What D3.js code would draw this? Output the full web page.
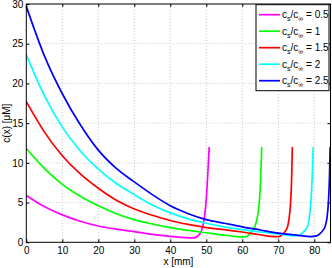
<!DOCTYPE html>
<html>
<head>
<meta charset="utf-8">
<script src="https://cdn.jsdelivr.net/npm/d3@7"></script>
<style>
  body { margin: 0; background: #fff; }
  text { font-family: "Liberation Sans", Arial, sans-serif; }
</style>
</head>
<body>
<script>
// data (x in mm, c in uM)
var ratios = ["0.5", "1", "1.5", "2", "2.5"];
var colors = ["#ff00ff", "#00ff00", "#ff0000", "#00ffff", "#0000ff"];

var x_magenta = [0, 5, 10, 15, 20, 25, 30, 35, 40, 44, 46, 47.2, 48.1, 48.6, 49.0, 49.5, 50.0, 50.4, 50.8];
var c_magenta = [5.9, 4.5, 3.45, 2.65, 2.05, 1.65, 1.35, 1.0, 0.75, 0.6, 0.55, 0.65, 1.0, 1.4, 2.0, 3.2, 5.5, 8.5, 12];

var x_green = [0, 5, 10, 15, 20, 25, 30, 35, 40, 45, 50, 55, 58, 60, 61.2, 62.1, 62.9, 63.5, 64.2, 64.7, 65.1, 65.4];
var c_green = [11.8, 9.3, 7.3, 5.8, 4.6, 3.6, 2.85, 2.3, 1.85, 1.5, 1.2, 0.9, 0.75, 0.68, 0.75, 1.05, 1.5, 2.0, 3.2, 4.9, 8, 12];

var x_red = [0, 5, 10, 15, 20, 25, 30, 35, 40, 45, 50, 55, 60, 65, 68, 70, 71.4, 72.1, 72.6, 73.0, 73.4, 73.7, 73.9];
var c_red = [17.7, 13.9, 10.9, 8.6, 6.8, 5.3, 4.2, 3.4, 2.75, 2.25, 1.85, 1.6, 1.3, 0.95, 0.75, 0.7, 1.1, 1.5, 2.0, 3.0, 4.9, 8, 12];

var x_cyan = [0, 5, 10, 15, 20, 25, 30, 35, 40, 45, 50, 55, 60, 65, 70, 74, 75.5, 76.5, 77.4, 78.1, 78.6, 79.0, 79.4, 79.7];
var c_cyan = [23.6, 18.5, 14.5, 11.5, 9.2, 7.4, 6.0, 4.7, 3.7, 2.95, 2.4, 1.95, 1.6, 1.3, 1.05, 0.85, 0.85, 1.1, 1.5, 2.0, 3.0, 4.9, 8, 12];

var x_blue = [0, 5, 10, 15, 20, 25, 30, 35, 40, 45, 50, 55, 60, 65, 70, 75, 79, 80.6, 81.6, 82.4, 83.0, 83.5, 83.9, 84.2, 84.4];
var c_blue = [29.7, 23.5, 18.7, 14.8, 11.6, 9.3, 7.6, 6.0, 4.6, 3.6, 2.85, 2.4, 1.95, 1.55, 1.15, 0.9, 0.72, 0.8, 1.1, 1.5, 2.0, 3.0, 4.9, 8, 12];

var series_x = [x_magenta, x_green, x_red, x_cyan, x_blue];
var series_c = [c_magenta, c_green, c_red, c_cyan, c_blue];

var x_ticks = [0, 10, 20, 30, 40, 50, 60, 70, 80];
var y_ticks = [0, 5, 10, 15, 20, 25, 30];

var margin = { top: 4, right: 1.5, bottom: 25.7, left: 26.3 },
    width = 332 - margin.left - margin.right,
    height = 268 - margin.top - margin.bottom;

var svg = d3.select("body").append("svg")
    .attr("width", 332)
    .attr("height", 268)
    .append("g")
    .attr("transform", "translate(" + margin.left + "," + margin.top + ")");

var x = d3.scaleLinear().domain([0, 84.5]).range([0, width]),
    y = d3.scaleLinear().domain([0, 30]).range([height, 0]);

// grid
svg.append("g").selectAll("line")
    .data(x_ticks.slice(1))
    .enter().append("line")
    .attr("x1", function(d) { return x(d); })
    .attr("x2", function(d) { return x(d); })
    .attr("y1", 0).attr("y2", height)
    .attr("stroke", "#c8c8c8")
    .attr("stroke-width", 1)
    .attr("stroke-dasharray", "1,2");
svg.append("g").selectAll("line")
    .data(y_ticks.slice(1, -1))
    .enter().append("line")
    .attr("y1", function(d) { return y(d); })
    .attr("y2", function(d) { return y(d); })
    .attr("x1", 0).attr("x2", width)
    .attr("stroke", "#c8c8c8")
    .attr("stroke-width", 1)
    .attr("stroke-dasharray", "1,2");

// axes (ticks inside, on all four sides)
svg.append("g")
    .attr("transform", "translate(0," + height + ")")
    .call(d3.axisBottom(x).tickValues(x_ticks).tickSizeInner(-3).tickSizeOuter(0).tickPadding(4.5));
svg.append("g")
    .call(d3.axisLeft(y).tickValues(y_ticks).tickSizeInner(-3).tickSizeOuter(0).tickPadding(3));
svg.append("g")
    .call(d3.axisTop(x).tickValues(x_ticks).tickSizeInner(-3).tickSizeOuter(0).tickFormat(""));
svg.append("g")
    .attr("transform", "translate(" + width + ",0)")
    .call(d3.axisRight(y).tickValues(y_ticks).tickSizeInner(-3).tickSizeOuter(0).tickFormat(""));

svg.selectAll(".domain").remove();
svg.selectAll(".tick line").attr("stroke", "#000");
svg.selectAll(".tick text")
    .attr("font-size", "10px")
    .attr("font-family", "Liberation Sans, Arial, sans-serif")
    .attr("fill", "#000");

// curves
var line = d3.line()
    .x(function(d) { return x(d[0]); })
    .y(function(d) { return y(d[1]); })
    .curve(d3.curveMonotoneX);

series_x.forEach(function(xs, i) {
    var pts = xs.map(function(v, j) { return [v, series_c[i][j]]; });
    svg.append("path")
        .attr("d", line(pts))
        .attr("fill", "none")
        .attr("stroke", colors[i])
        .attr("stroke-width", 1.7);
});

// box
svg.append("rect")
    .attr("x", 0).attr("y", 0)
    .attr("width", width).attr("height", height)
    .attr("fill", "none")
    .attr("stroke", "#000")
    .attr("stroke-width", 1);

// axis labels
svg.append("text")
    .attr("x", width / 2)
    .attr("y", height + 23)
    .attr("font-size", "10px")
    .style("text-anchor", "middle")
    .text("x [mm]");
svg.append("text")
    .attr("transform", "translate(" + (10.5 - margin.left) + "," + (height / 2) + ") rotate(-90)")
    .attr("font-size", "10px")
    .style("text-anchor", "middle")
    .text("c(x) [\u03bcM]");

// legend
var legend = svg.append("g")
    .attr("transform", "translate(" + (256 - margin.left) + "," + (4.7 - margin.top) + ")");
legend.append("rect")
    .attr("x", 0).attr("y", 0)
    .attr("width", 73).attr("height", 86)
    .attr("fill", "#fff")
    .attr("stroke", "#000")
    .attr("stroke-width", 1);

var rows = legend.selectAll(".row")
    .data(ratios)
    .enter().append("g")
    .attr("class", "row")
    .attr("transform", function(d, i) { return "translate(0," + (10 + i * 16.5) + ")"; });
rows.append("line")
    .attr("x1", 3).attr("x2", 24)
    .attr("y1", 0).attr("y2", 0)
    .attr("stroke", function(d, i) { return colors[i]; })
    .attr("stroke-width", 1.7);
var lt = rows.append("text")
    .attr("x", 26)
    .attr("y", 3.5)
    .attr("font-size", "10px");
lt.append("tspan").text("c");
lt.append("tspan").attr("font-size", "7px").attr("dy", 3).text("s");
lt.append("tspan").attr("dy", -3).text("/c");
lt.append("tspan").attr("font-size", "7px").attr("dy", 3).text("\u221e");
lt.append("tspan").attr("dy", -3).text(function(d) { return " = " + d; });
</script>
</body>
</html>
